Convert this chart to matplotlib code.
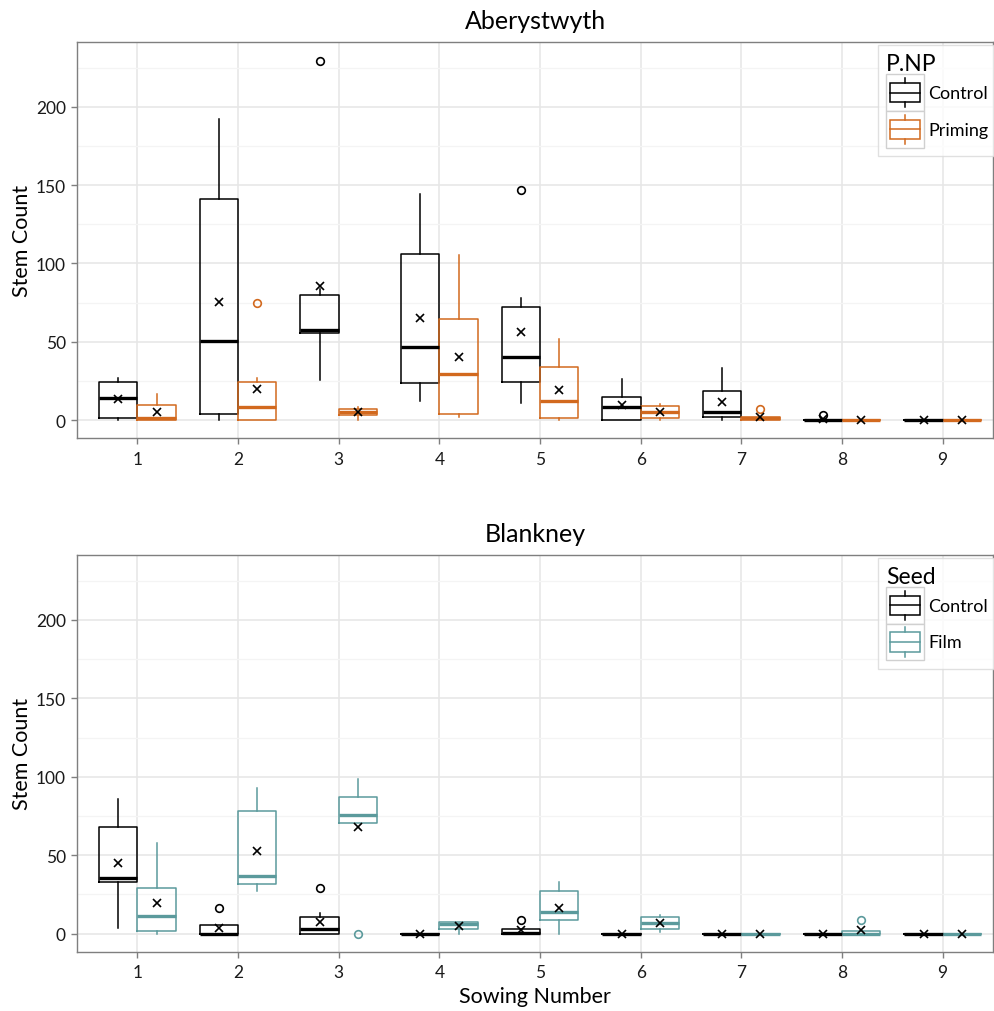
import numpy as np
import matplotlib
matplotlib.use("Agg")
import matplotlib.pyplot as plt
from matplotlib.legend_handler import HandlerBase
from matplotlib.patches import Rectangle
from matplotlib.lines import Line2D

plt.rcParams['font.family'] = ['Lato', 'DejaVu Sans']

sowing = [1, 2, 3, 4, 5, 6, 7, 8, 9]

# Aberystwyth - Control
aber_ctl_q1 = [1, 3.8, 55.5, 23.4, 24.5, 0, 2.1, 0, 0]
aber_ctl_med = [13.8, 50.6, 57.4, 46.8, 40, 8.1, 4.9, 0, 0]
aber_ctl_q3 = [24.5, 141, 79.8, 106, 72.1, 14.7, 18.7, 0, 0]
aber_ctl_lo = [0, 0, 25.5, 12.1, 11.1, 0, 0, 0, 0]
aber_ctl_hi = [26.6, 192.3, 84, 144.7, 77.7, 26.2, 33, 0, 0]
aber_ctl_mean = [13.4, 75.3, 85.5, 65.3, 56.4, 9.6, 11.3, 0.4, 0]
aber_ctl_out = [[], [], [229.4], [], [146.8], [], [], [3.2], []]

# Aberystwyth - Priming
aber_pri_q1 = [0, 0, 3, 3.8, 1, 1, 0, 0, 0]
aber_pri_med = [1, 8.1, 5.1, 29.4, 11.9, 5.1, 1, 0, 0]
aber_pri_q3 = [9.8, 24.5, 7, 64.3, 34, 8.7, 2.1, 0, 0]
aber_pri_lo = [0, 0, 0, 2.1, 0, 0, 0, 0, 0]
aber_pri_hi = [16.4, 27, 8.5, 105.7, 51.5, 10, 2.1, 0, 0]
aber_pri_mean = [4.9, 19.6, 4.9, 40, 19.1, 4.9, 1.7, 0, 0]
aber_pri_out = [[], [74.9], [], [], [], [], [7], [], []]

# Blankney - Control
blank_ctl_q1 = [32.8, 0, 0, 0, 0, 0, 0, 0, 0]
blank_ctl_med = [35.6, 0, 3, 0, 0.6, 0, 0, 0, 0]
blank_ctl_q3 = [67.8, 5.5, 10.6, 0, 3, 0, 0, 0, 0]
blank_ctl_lo = [3.8, 0, 0, 0, 0, 0, 0, 0, 0]
blank_ctl_hi = [85.8, 5.5, 13.3, 0, 3, 0, 0, 0, 0]
blank_ctl_mean = [45.3, 3.8, 7.6, 0, 2.1, 0, 0, 0, 0]
blank_ctl_out = [[], [16.3], [28.8], [], [8.5], [], [], [], []]

# Blankney - Film
blank_film_q1 = [1.9, 31.8, 70.3, 2.8, 8.5, 2.8, 0, 0, 0]
blank_film_med = [11.4, 36.7, 75.4, 6.4, 13.6, 6.8, 0, 0, 0]
blank_film_q3 = [28.8, 78.2, 86.9, 7.4, 27.1, 10.6, 0, 1.7, 0]
blank_film_lo = [0, 27.1, 70.3, 0, 0, 1, 0, 0, 0]
blank_film_hi = [57.8, 92.6, 98.5, 7.4, 32.6, 11.7, 0, 1.7, 0]
blank_film_mean = [19.3, 52.5, 68.2, 5.1, 16.3, 6.8, 0, 2.1, 0]
blank_film_out = [[], [], [0], [], [], [], [], [8.7], []]

BLACK = '#000000'
ORANGE = '#D2691E'
TEAL = '#5B9A9C'


def make_stats(q1, med, q3, lo, hi, mean, out):
    return [dict(q1=a, med=b, q3=c, whislo=d, whishi=e, mean=f, fliers=g)
            for a, b, c, d, e, f, g in zip(q1, med, q3, lo, hi, mean, out)]


def draw_group(ax, stats, offset, color):
    pos = [s + offset for s in sowing]
    ax.bxp(stats, positions=pos, widths=0.38, showcaps=False, showmeans=True,
           patch_artist=False, manage_ticks=False,
           boxprops=dict(color=color, linewidth=1.1),
           whiskerprops=dict(color=color, linewidth=1.1),
           medianprops=dict(color=color, linewidth=2.4, solid_capstyle='butt'),
           meanprops=dict(marker='x', markeredgecolor='black', markersize=5.5,
                          markeredgewidth=1.2, linestyle='none'),
           flierprops=dict(marker='o', markerfacecolor='none', markeredgecolor=color,
                           markersize=5.5, markeredgewidth=1.2, linestyle='none'))


class BoxKey(HandlerBase):
    def create_artists(self, legend, orig_handle, xdescent, ydescent, width, height,
                       fontsize, trans):
        c = orig_handle.get_color()
        x0, y0 = -xdescent, -ydescent
        bg = Rectangle((x0, y0), width, height, facecolor='white', edgecolor='#d0d0d0',
                       linewidth=1.0, transform=trans)
        bw = width * 0.80
        bx = x0 + (width - bw) / 2
        bh = height * 0.52
        by = y0 + (height - bh) / 2
        box = Rectangle((bx, by), bw, bh, facecolor='none', edgecolor=c, linewidth=1.1,
                        transform=trans)
        xm = x0 + width / 2
        med = Line2D([bx, bx + bw], [y0 + height / 2] * 2, color=c, linewidth=1.1,
                     transform=trans)
        w1 = Line2D([xm, xm], [by + bh, y0 + height * 0.9], color=c, linewidth=1.1,
                    transform=trans)
        w2 = Line2D([xm, xm], [y0 + height * 0.1, by], color=c, linewidth=1.1,
                    transform=trans)
        return [bg, box, med, w1, w2]


def style_axes(ax, title):
    ax.set_xlim(0.4, 9.5)
    ax.set_ylim(-11.5, 241.5)
    ax.set_xticks(sowing)
    ax.set_xticklabels([str(s) for s in sowing])
    ax.set_yticks([0, 50, 100, 150, 200])
    ax.set_yticks([25, 75, 125, 175, 225], minor=True)
    ax.grid(True, which='major', color='#e6e6e6', linewidth=1.1)
    ax.grid(True, which='minor', axis='y', color='#f4f4f4', linewidth=0.9)
    ax.set_axisbelow(True)
    for sp in ax.spines.values():
        sp.set_color('#7f7f7f')
        sp.set_linewidth(1.0)
    ax.tick_params(which='major', direction='out', length=4, width=1.0, color='#7f7f7f',
                   labelsize=12.5, labelcolor='#1a1a1a')
    ax.tick_params(axis='x', which='major', pad=5)
    ax.tick_params(axis='y', which='major', pad=4)
    ax.tick_params(which='minor', length=0)
    ax.set_ylabel('Stem Count', fontsize=15.5, labelpad=3)
    ax.set_title(title, fontsize=18, pad=10)


fig = plt.figure(figsize=(9.94, 10.12), dpi=100)
ax1 = fig.add_axes([0.0775, 0.5662, 0.9215, 0.3913])
ax2 = fig.add_axes([0.0775, 0.0586, 0.9215, 0.3923])

draw_group(ax1, make_stats(aber_ctl_q1, aber_ctl_med, aber_ctl_q3, aber_ctl_lo,
                           aber_ctl_hi, aber_ctl_mean, aber_ctl_out), -0.19, BLACK)
draw_group(ax1, make_stats(aber_pri_q1, aber_pri_med, aber_pri_q3, aber_pri_lo,
                           aber_pri_hi, aber_pri_mean, aber_pri_out), 0.19, ORANGE)
draw_group(ax2, make_stats(blank_ctl_q1, blank_ctl_med, blank_ctl_q3, blank_ctl_lo,
                           blank_ctl_hi, blank_ctl_mean, blank_ctl_out), -0.19, BLACK)
draw_group(ax2, make_stats(blank_film_q1, blank_film_med, blank_film_q3, blank_film_lo,
                           blank_film_hi, blank_film_mean, blank_film_out), 0.19, TEAL)

style_axes(ax1, 'Aberystwyth')
style_axes(ax2, 'Blankney')
ax2.set_xlabel('Sowing Number', fontsize=15.5, labelpad=4)

for ax, title, labels, colors in [(ax1, 'P.NP', ['Control', 'Priming'], [BLACK, ORANGE]),
                                  (ax2, 'Seed', ['Control', 'Film'], [BLACK, TEAL])]:
    handles = [Line2D([], [], color=c) for c in colors]
    leg = ax.legend(handles, labels, title=title, loc='upper left',
                    bbox_to_anchor=(0.8745, 0.992), handler_map={Line2D: BoxKey()},
                    fontsize=13, title_fontsize=16.5, frameon=True, fancybox=False,
                    handlelength=2.1, handleheight=2.75, labelspacing=0.0,
                    handletextpad=0.25, borderpad=0.45, borderaxespad=0)
    leg._legend_box.align = 'left'
    leg.get_frame().set_edgecolor('#d9d9d9')
    leg.get_frame().set_linewidth(1.0)

fig.savefig('out.png', dpi=100)
